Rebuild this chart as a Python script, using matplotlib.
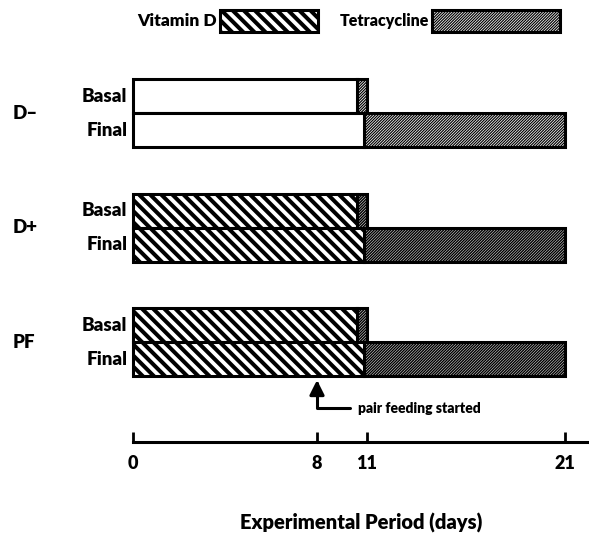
import numpy as np
import matplotlib.pyplot as plt
from matplotlib.patches import Rectangle

plt.rcParams['font.family'] = ['Lato', 'DejaVu Sans']

# data (days)
groups = ['D\u2013', 'D+', 'PF']
has_vitd = [False, True, True]
basal_switch = [10.4, 10.4, 10.4]   # vitamin D period ends, tetracycline starts
basal_end = [11, 11, 11]
final_switch = [10.8, 10.8, 10.8]
final_end = [21, 21, 21]
tick_days = [0, 8, 11, 21]
pair_feeding_day = 8

W, H = 589, 535
fig = plt.figure(figsize=(W / 100, H / 100), dpi=100)
ax = fig.add_axes([0, 0, 1, 1])

# hand drawn time axis is not quite linear: map days to pixel offsets
kd = [-50, 0, 8, 11, 21, 60]
kp = [-50 * 23, 0, 184, 234, 432, 432 + 39 * 19.8]
fwd = lambda x: np.interp(x, kd, kp)
inv = lambda p: np.interp(p, kp, kd)
ax.set_xscale('function', functions=(fwd, inv))
ax.set_xlim(inv(-133), inv(W - 133))

PX = 34.0
ax.set_ylim(H / PX, 0)

top0, step = 79 / PX, 3.37
LW = 2.2
VIT_HATCH = '\\' * 3
VIT_HLW = 2.9
TET_HATCH = '/' * 12


def tet_bar(y, left, right, hlw):
    with plt.rc_context({'hatch.linewidth': hlw}):
        ax.barh(y, right - left, left=left, height=1, color='black',
                edgecolor='white', hatch=TET_HATCH, linewidth=0)
    ax.barh(y, right - left, left=left, height=1, fill=False,
            edgecolor='black', linewidth=LW)


def vitd_bar(y, right, striped):
    with plt.rc_context({'hatch.linewidth': VIT_HLW}):
        ax.barh(y, right, left=0, height=1, facecolor='white',
                edgecolor='black', hatch=VIT_HATCH if striped else None,
                linewidth=LW)


for i, g in enumerate(groups):
    yb = top0 + step * i + 0.5
    yf = yb + 1
    hlw = 0.55 if not has_vitd[i] else 0.35
    tet_bar(yb, basal_switch[i], basal_end[i], hlw)
    vitd_bar(yb, basal_switch[i], has_vitd[i])
    tet_bar(yf, final_switch[i], final_end[i], hlw)
    vitd_bar(yf, final_switch[i], has_vitd[i])
    for y, lab in [(yb, 'Basal'), (yf, 'Final')]:
        ax.annotate(lab, (0, y), xytext=(-4, 0), textcoords='offset points',
                    ha='right', va='center', fontsize=13.5, fontweight='heavy')
    ax.annotate(g, (0, yb + 0.5), xytext=(-87, 0), textcoords='offset points',
                ha='left', va='center', fontsize=13.5, fontweight='heavy')

# pair feeding arrow
ax.annotate('pair feeding started', xy=(pair_feeding_day, 380 / PX),
            xytext=(10.46, 408 / PX), ha='left', va='center',
            fontsize=10, fontweight='heavy',
            arrowprops=dict(arrowstyle='-|>', color='black', lw=2.2,
                            mutation_scale=22, shrinkA=4, shrinkB=0,
                            relpos=(0, 0.5),
                            connectionstyle='angle,angleA=0,angleB=90,rad=0'))

# time axis
for s in ['top', 'right', 'left']:
    ax.spines[s].set_visible(False)
ax.spines['bottom'].set_position(('data', 442 / PX))
ax.spines['bottom'].set_bounds(0, ax.get_xlim()[1])
ax.spines['bottom'].set_linewidth(LW)
ax.set_xticks(tick_days)
ax.set_xticklabels([str(d) for d in tick_days], fontsize=13,
                   fontweight='heavy')
ax.tick_params(axis='x', direction='in', length=7, width=2, pad=9)
ax.set_yticks([])
ax.patch.set_visible(False)

fig.text(361 / W, 1 - 523 / H, 'Experimental Period (days)', ha='center',
         va='center', fontsize=14.5, fontweight='heavy')

# legend boxes
fig.text(217 / W, 1 - 21 / H, 'Vitamin D', ha='right', va='center',
         fontsize=12.5, fontweight='heavy')
with plt.rc_context({'hatch.linewidth': VIT_HLW}):
    fig.add_artist(Rectangle((220 / W, 1 - 32 / H), 98 / W, 22 / H,
                             transform=fig.transFigure, facecolor='white',
                             edgecolor='black', hatch=VIT_HATCH, linewidth=LW))
fig.text(429 / W, 1 - 21 / H, 'Tetracycline', ha='right', va='center',
         fontsize=11.5, fontweight='heavy')
with plt.rc_context({'hatch.linewidth': 0.55}):
    fig.add_artist(Rectangle((432 / W, 1 - 32 / H), 128 / W, 22 / H,
                             transform=fig.transFigure, facecolor='black',
                             edgecolor='white', hatch=TET_HATCH, linewidth=0))
fig.add_artist(Rectangle((432 / W, 1 - 32 / H), 128 / W, 22 / H,
                         transform=fig.transFigure, fill=False,
                         edgecolor='black', linewidth=LW))

fig.savefig('out.png', dpi=100)
